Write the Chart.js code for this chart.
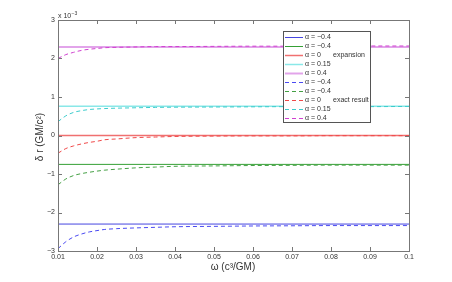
<!DOCTYPE html>
<html>
<head>
<meta charset="utf-8">
<script src="https://cdn.jsdelivr.net/npm/chart.js@4"></script>
<style>
  body { margin: 0; background: #fff; }
  canvas { display: block; }
</style>
</head>
<body>
<canvas id="chartDeltaR" width="452" height="282"></canvas>
<script>
// abscisses (omega en c^3/GM) et valeurs (delta r en 1e-3 GM/c^2)
const omega = [0.01, 0.012, 0.014, 0.016, 0.018, 0.02, 0.022, 0.025, 0.03, 0.035, 0.04, 0.05, 0.06, 0.07, 0.08, 0.09, 0.1];
const omegaBornes = [0.01, 0.1];

const alphaLabels = ["α = −0.4", "α = −0.4", "α = 0", "α = 0.15", "α = 0.4"];
const expansion = [-2.3, -0.75, 0, 0.757, 2.3];

const exactBleu = [-2.94, -2.76, -2.635, -2.56, -2.505, -2.47, -2.44, -2.42, -2.40, -2.385, -2.37, -2.36, -2.35, -2.345, -2.34, -2.34, -2.34];
const exactVert = [-1.28, -1.13, -1.04, -0.99, -0.955, -0.925, -0.90, -0.875, -0.84, -0.82, -0.80, -0.79, -0.78, -0.775, -0.77, -0.77, -0.77];
const exactRouge = [-0.46, -0.34, -0.27, -0.22, -0.18, -0.15, -0.11, -0.09, -0.055, -0.04, -0.025, -0.015, -0.01, -0.01, -0.005, -0.005, -0.005];
const exactCyan = [0.36, 0.51, 0.60, 0.645, 0.675, 0.69, 0.70, 0.71, 0.72, 0.73, 0.735, 0.74, 0.745, 0.75, 0.75, 0.75, 0.755];
const exactMagenta = [2.0, 2.10, 2.16, 2.21, 2.24, 2.26, 2.28, 2.29, 2.30, 2.31, 2.31, 2.315, 2.32, 2.32, 2.32, 2.325, 2.325];

const xTicks = [0.01, 0.02, 0.03, 0.04, 0.05, 0.06, 0.07, 0.08, 0.09, 0.1];
const yTicks = [-3, -2, -1, 0, 1, 2, 3];

const couleursPleines = ["#4545e0", "#35a035", "#f07070", "#8ae8e8", "#e2a4ea"];
const epaisseursPleines = [1, 1, 1.5, 1.5, 2];
const couleursTirets = ["#4a4af2", "#44a044", "#f04848", "#3ccccc", "#d040d0"];
const exacts = [exactBleu, exactVert, exactRouge, exactCyan, exactMagenta];

const datasets = [];
expansion.forEach((v, k) => {
  datasets.push({
    label: alphaLabels[k],
    data: omegaBornes.map(w => ({ x: w, y: v })),
    borderColor: couleursPleines[k],
    borderWidth: epaisseursPleines[k],
    pointRadius: 0,
    order: 1
  });
});
exacts.forEach((serie, k) => {
  datasets.push({
    label: alphaLabels[k],
    data: omega.map((w, i) => ({ x: w, y: serie[i] })),
    borderColor: couleursTirets[k],
    borderWidth: 1,
    borderDash: [4, 3],
    pointRadius: 0,
    cubicInterpolationMode: "monotone",
    order: 0
  });
});

const police = "'Liberation Sans', Arial, sans-serif";

const habillage = {
  id: "habillage",
  afterDraw(chart) {
    const { ctx, chartArea: a, scales: { x, y } } = chart;
    ctx.save();

    // cadre + graduations vers l'interieur
    ctx.strokeStyle = "#777";
    ctx.lineWidth = 1;
    ctx.strokeRect(Math.round(a.left) + 0.5, Math.round(a.top) + 0.5,
      Math.round(a.right - a.left), Math.round(a.bottom - a.top));
    ctx.beginPath();
    xTicks.forEach(v => {
      const px = Math.round(x.getPixelForValue(v)) + 0.5;
      ctx.moveTo(px, a.bottom); ctx.lineTo(px, a.bottom - 4);
      ctx.moveTo(px, a.top); ctx.lineTo(px, a.top + 4);
    });
    yTicks.forEach(v => {
      const py = Math.round(y.getPixelForValue(v)) + 0.5;
      ctx.moveTo(a.left, py); ctx.lineTo(a.left + 4, py);
      ctx.moveTo(a.right, py); ctx.lineTo(a.right - 4, py);
    });
    ctx.stroke();

    // facteur d'echelle
    ctx.fillStyle = "#333";
    ctx.font = "7px " + police;
    ctx.textBaseline = "alphabetic";
    ctx.textAlign = "left";
    ctx.fillText("x 10", 58, 18);
    ctx.font = "5px " + police;
    ctx.fillText("−3", 71.5, 15);

    // titres des axes
    ctx.font = "10px " + police;
    ctx.textAlign = "center";
    ctx.textBaseline = "middle";
    ctx.fillText("ω (c³/GM)", 233, 267);
    ctx.save();
    ctx.translate(40, 137);
    ctx.rotate(-Math.PI / 2);
    ctx.fillText("δ r (GM/c²)", 0, 0);
    ctx.restore();

    // legende
    ctx.fillStyle = "#fff";
    ctx.fillRect(283.5, 31.5, 87, 91);
    ctx.strokeStyle = "#555";
    ctx.strokeRect(283.5, 31.5, 87, 91);
    ctx.font = "7px " + police;
    ctx.textAlign = "left";
    chart.data.datasets.forEach((ds, i) => {
      const ly = 37.5 + i * 9;
      ctx.beginPath();
      ctx.strokeStyle = ds.borderColor;
      ctx.lineWidth = ds.borderWidth;
      ctx.setLineDash(ds.borderDash || []);
      ctx.moveTo(285, ly);
      ctx.lineTo(303, ly);
      ctx.stroke();
      ctx.setLineDash([]);
      ctx.fillStyle = "#333";
      ctx.fillText(ds.label, 305, ly);
    });
    ctx.fillText("expansion", 333, 37.5 + 2 * 9);
    ctx.fillText("exact result", 333, 37.5 + 7 * 9);

    ctx.restore();
  }
};

new Chart(document.getElementById("chartDeltaR"), {
  type: "line",
  data: { datasets: datasets },
  options: {
    responsive: false,
    animation: false,
    layout: { padding: { top: 20, right: 43, left: 0, bottom: 0 } },
    plugins: {
      legend: { display: false },
      tooltip: { enabled: false }
    },
    scales: {
      x: {
        type: "linear",
        min: 0.01,
        max: 0.1,
        afterBuildTicks: s => { s.ticks = xTicks.map(v => ({ value: v })); },
        afterFit: s => { s.height = 31; },
        grid: { display: false, drawTicks: false },
        border: { display: false },
        ticks: {
          autoSkip: false,
          maxRotation: 0,
          padding: 2,
          color: "#333",
          font: { family: police, size: 7 },
          callback: v => String(Math.round(v * 100) / 100)
        }
      },
      y: {
        type: "linear",
        min: -3,
        max: 3,
        afterBuildTicks: s => { s.ticks = yTicks.map(v => ({ value: v })); },
        afterFit: s => { s.width = 58; },
        grid: { display: false, drawTicks: false },
        border: { display: false },
        ticks: {
          autoSkip: false,
          padding: 3,
          color: "#333",
          font: { family: police, size: 7 },
          callback: v => String(v).replace("-", "−")
        }
      }
    }
  },
  plugins: [habillage]
});
</script>
</body>
</html>
